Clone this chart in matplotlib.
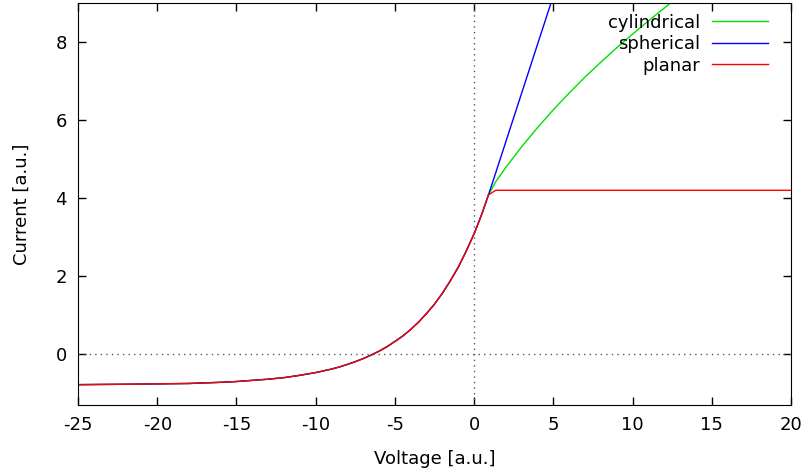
import matplotlib.pyplot as plt
import numpy as np

# shared electron-retardation part of the probe characteristic
v_ret = [-25, -22, -20, -18, -16, -15, -14, -13, -12, -11, -10, -9, -8.5,
         -8, -7.5, -7, -6.5, -6, -5.5, -5, -4.5, -4, -3.5, -3, -2.5, -2,
         -1.5, -1, -0.5, 0, 0.25, 0.5, 0.9]
i_ret = [-0.79, -0.78, -0.77, -0.76, -0.73, -0.71, -0.68, -0.65, -0.61,
         -0.55, -0.48, -0.39, -0.335, -0.27, -0.20, -0.12, -0.03, 0.07,
         0.185, 0.32, 0.46, 0.63, 0.82, 1.04, 1.28, 1.56, 1.88, 2.23, 2.64,
         3.09, 3.345, 3.61, 4.08]

# electron saturation branches
v_cyl = [1.36, 2, 3, 4, 5, 6, 7, 8, 9, 10, 11, 12, 13]
i_cyl = [4.42, 4.79, 5.32, 5.81, 6.27, 6.70, 7.11, 7.49, 7.86, 8.21, 8.55,
         8.88, 9.20]

v_sph = [1.36, 3, 5]
i_sph = [4.65, 6.70, 9.20]

v_pla = [1.36, 20]
i_pla = [4.20, 4.20]

plt.rcParams['font.family'] = 'DejaVu Sans'
plt.rcParams['axes.unicode_minus'] = False
fig = plt.figure(figsize=(8.07, 4.75), dpi=100)
ax = fig.add_axes([0.0967, 0.1484, 0.8836, 0.8446])

ax.axhline(0, color='#555555', lw=1, ls=(0, (1, 3)))
ax.axvline(0, color='#555555', lw=1, ls=(0, (1, 3)))

ax.plot(v_ret + v_cyl, i_ret + i_cyl, color='#00e000', lw=1, label='cylindrical')
ax.plot(v_ret + v_sph, i_ret + i_sph, color='#0000ff', lw=1, label='spherical')
ax.plot(v_ret + v_pla, i_ret + i_pla, color='#ff0000', lw=1, label='planar')

ax.set_xlim(-25, 20)
ax.set_ylim(-1.3, 9)
ax.set_xticks(np.arange(-25, 21, 5))
ax.set_yticks([0, 2, 4, 6, 8])
ax.tick_params(direction='in', length=6, width=1, top=True, right=True,
               labelsize=13)
ax.tick_params(axis='x', pad=8)
ax.tick_params(axis='y', pad=8)
ax.set_xlabel('Voltage [a.u.]', fontsize=13, labelpad=12)
ax.set_ylabel('Current [a.u.]', fontsize=13, labelpad=18)

leg = ax.legend(loc='upper right', bbox_to_anchor=(0.9776, 0.9925),
                frameon=False, fontsize=13, markerfirst=False,
                handlelength=3.1, handletextpad=0.65, labelspacing=0.2,
                borderaxespad=0)
for t in leg.get_texts():
    t.set_ha('right')

fig.savefig('out.png', dpi=100)
